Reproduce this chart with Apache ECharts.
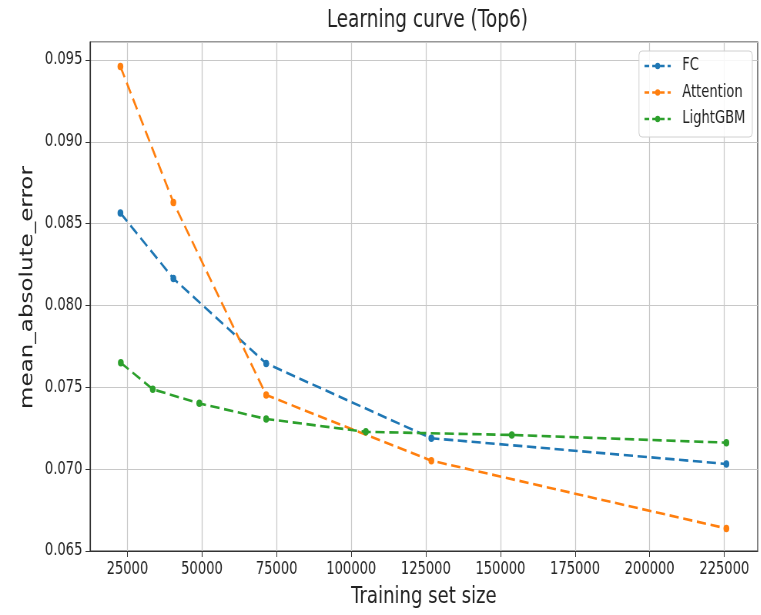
<!DOCTYPE html>
<html>
<head>
<meta charset="utf-8">
<script src="https://cdn.jsdelivr.net/npm/echarts@6/dist/echarts.min.js"></script>
<style>
html,body{margin:0;padding:0;background:#fff;}
#wrap{width:761px;height:615px;overflow:hidden;position:relative;}
#chart{width:988px;height:615px;transform:scaleX(0.77);transform-origin:0 0;}
</style>
</head>
<body>
<div id="wrap"><div id="chart"></div></div>
<script>
// Data
const fcSizes = [22660, 40400, 71500, 126840, 225700];
const fcMae = [0.08565, 0.08165, 0.07646, 0.07189, 0.07032];
const attSizes = [22660, 40400, 71500, 126840, 225700];
const attMae = [0.0946, 0.0863, 0.07453, 0.07052, 0.06638];
const lgbSizes = [22800, 33500, 49100, 71500, 104900, 153800, 225700];
const lgbMae = [0.0765, 0.07488, 0.07402, 0.07307, 0.07228, 0.07209, 0.07162];
const xTicks = [25000, 50000, 75000, 100000, 125000, 150000, 175000, 200000, 225000];
const seriesNames = ['FC', 'Attention', 'LightGBM'];
const colors = ['#1f77b4', '#ff7f0e', '#2ca02c'];

function pairs(xs, ys) { return xs.map((x, i) => [x, ys[i]]); }

const FONT = 'DejaVu Sans';
const chart = echarts.init(document.getElementById('chart'), null, {renderer: 'canvas'});

const data = [pairs(fcSizes, fcMae), pairs(attSizes, attMae), pairs(lgbSizes, lgbMae)];

chart.setOption({
  animation: false,
  backgroundColor: '#ffffff',
  title: {
    text: 'Learning curve (Top6)',
    left: 550, top: 4, textAlign: 'center',
    textStyle: {fontFamily: FONT, fontSize: 24, fontWeight: 'normal', color: '#222'}
  },
  legend: {
    data: seriesNames,
    orient: 'vertical',
    right: 11, top: 51,
    itemWidth: 34, itemHeight: 8, itemGap: 6.5,
    padding: [5, 9, 8, 6],
    borderColor: '#d0d0d0', borderWidth: 1, borderRadius: 4,
    backgroundColor: 'rgba(255,255,255,0.85)',
    lineStyle: {type: [6, 4], width: 2.5},
    textStyle: {fontFamily: FONT, fontSize: 17, color: '#222', padding: [0, 0, 0, 10], lineHeight: 20}
  },
  grid: {
    left: 117, right: 4, top: 42, bottom: 64,
    show: true, borderColor: '#333', borderWidth: 1.2, containLabel: false
  },
  xAxis: {
    type: 'value',
    min: 12500, max: 236200,
    name: 'Training set size',
    nameLocation: 'middle', nameGap: 34,
    nameTextStyle: {fontFamily: FONT, fontSize: 23.5, color: '#222'},
    axisLine: {show: true, lineStyle: {color: '#333', width: 1.2}},
    axisTick: {show: true, length: 6, customValues: xTicks, lineStyle: {color: '#333'}},
    axisLabel: {customValues: xTicks, margin: 10, fontFamily: FONT, fontSize: 17, color: '#222',
      formatter: v => String(v)},
    splitLine: {show: true, lineStyle: {color: '#c8c8c8', width: 1.2}}
  },
  yAxis: {
    type: 'value',
    min: 0.065, max: 0.0961, interval: 0.005,
    name: 'mean_absolute_error',
    nameLocation: 'middle', nameGap: 60,
    nameTextStyle: {fontFamily: FONT, fontSize: 23, color: '#222', padding: [0, 0, 0, 18]},
    axisLine: {show: true, lineStyle: {color: '#333', width: 1.2}},
    axisTick: {show: true, length: 6, lineStyle: {color: '#333'}},
    axisLabel: {
      margin: 10, fontFamily: FONT, fontSize: 17, color: '#222',
      showMaxLabel: false,
      formatter: v => v.toFixed(3)
    },
    splitLine: {show: true, lineStyle: {color: '#c8c8c8', width: 1.2}}
  },
  series: seriesNames.map((name, i) => ({
    name: name,
    type: 'line',
    data: data[i],
    color: colors[i],
    symbol: 'circle',
    symbolSize: 7.5,
    lineStyle: {type: [12, 6], width: 2.6, color: colors[i]},
    itemStyle: {color: colors[i]},
    z: 3 + i
  }))
});
</script>
</body>
</html>
